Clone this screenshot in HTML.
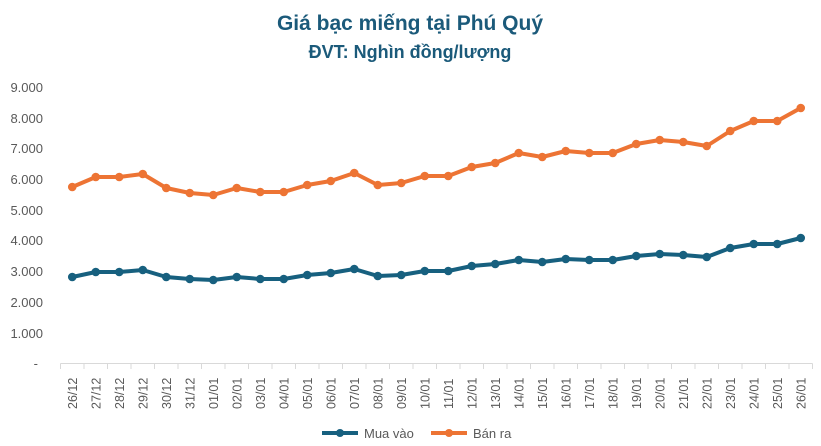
<!DOCTYPE html>
<html><head><meta charset="utf-8"><style>
body{margin:0;background:#fff;}
svg{display:block;font-family:"Liberation Sans",sans-serif;}
</style></head><body>
<svg width="821" height="446" viewBox="0 0 821 446">
<text x="410" y="30" text-anchor="middle" font-size="21" font-weight="bold" fill="#1b5a7a">Giá bạc miếng tại Phú Quý</text>
<text x="410" y="58" text-anchor="middle" font-size="18" font-weight="bold" fill="#1b5a7a">ĐVT: Nghìn đồng/lượng</text>
<g font-size="13" fill="#595959" text-anchor="end">
<text x="43" y="92">9.000</text><text x="43" y="123">8.000</text><text x="43" y="153">7.000</text>
<text x="43" y="184">6.000</text><text x="43" y="215">5.000</text><text x="43" y="245">4.000</text>
<text x="43" y="276">3.000</text><text x="43" y="307">2.000</text><text x="43" y="338">1.000</text>
<text x="38" y="368">-</text>
</g>
<line x1="60.5" y1="363.5" x2="812.5" y2="363.5" stroke="#d9d9d9" stroke-width="1"/>
<g id="ticks" stroke="#d9d9d9"></g>
<g id="labels" font-size="12.5" fill="#595959"></g>
<polyline id="o" fill="none" stroke="#ed7434" stroke-width="4" stroke-linejoin="round"/>
<polyline id="b" fill="none" stroke="#17607f" stroke-width="4" stroke-linejoin="round"/>
<g id="dots"></g>
<line x1="322" y1="433" x2="358" y2="433" stroke="#17607f" stroke-width="4"/>
<circle cx="340" cy="433" r="4" fill="#17607f"/>
<text x="364" y="438" font-size="13" fill="#595959">Mua vào</text>
<line x1="431" y1="433" x2="467" y2="433" stroke="#ed7434" stroke-width="4"/>
<circle cx="449" cy="433" r="4" fill="#ed7434"/>
<text x="473" y="438" font-size="13" fill="#595959">Bán ra</text>
</svg>
<script>
var labs=["26/12","27/12","28/12","29/12","30/12","31/12"];
for(var i=1;i<=26;i++)labs.push((i<10?"0":"")+i+"/01");
var oy=[187,177,177,174,188,193,195,188,192,192,185,181,173,185,183,176,176,167,163,153,157,151,153,153,144,140,142,146,131,121,121,108];
var by=[277,272,272,270,277,279,280,277,279,279,275,273,269,276,275,271,271,266,264,260,262,259,260,260,256,254,255,257,248,244,244,238];
var ns="http://www.w3.org/2000/svg",step=752/32,x0=60.5;
var t=document.getElementById("ticks"),l=document.getElementById("labels"),d=document.getElementById("dots");
var op=[],bp=[];
for(var i=0;i<=32;i++){var ln=document.createElementNS(ns,"line");var x=x0+i*step;
ln.setAttribute("x1",x);ln.setAttribute("x2",x);ln.setAttribute("y1",363.5);ln.setAttribute("y2",369);t.appendChild(ln);}
for(var i=0;i<32;i++){var cx=x0+step*(i+0.5);
var tx=document.createElementNS(ns,"text");tx.setAttribute("transform","translate("+(cx+4.5)+",409) rotate(-90)");tx.textContent=labs[i];l.appendChild(tx);
op.push(cx+","+oy[i]);bp.push(cx+","+by[i]);
[[oy[i],"#ed7434"],[by[i],"#17607f"]].forEach(function(p){var c=document.createElementNS(ns,"circle");c.setAttribute("cx",cx);c.setAttribute("cy",p[0]);c.setAttribute("r",4.3);c.setAttribute("fill",p[1]);d.appendChild(c);});}
document.getElementById("o").setAttribute("points",op.join(" "));
document.getElementById("b").setAttribute("points",bp.join(" "));
</script>
</body></html>
